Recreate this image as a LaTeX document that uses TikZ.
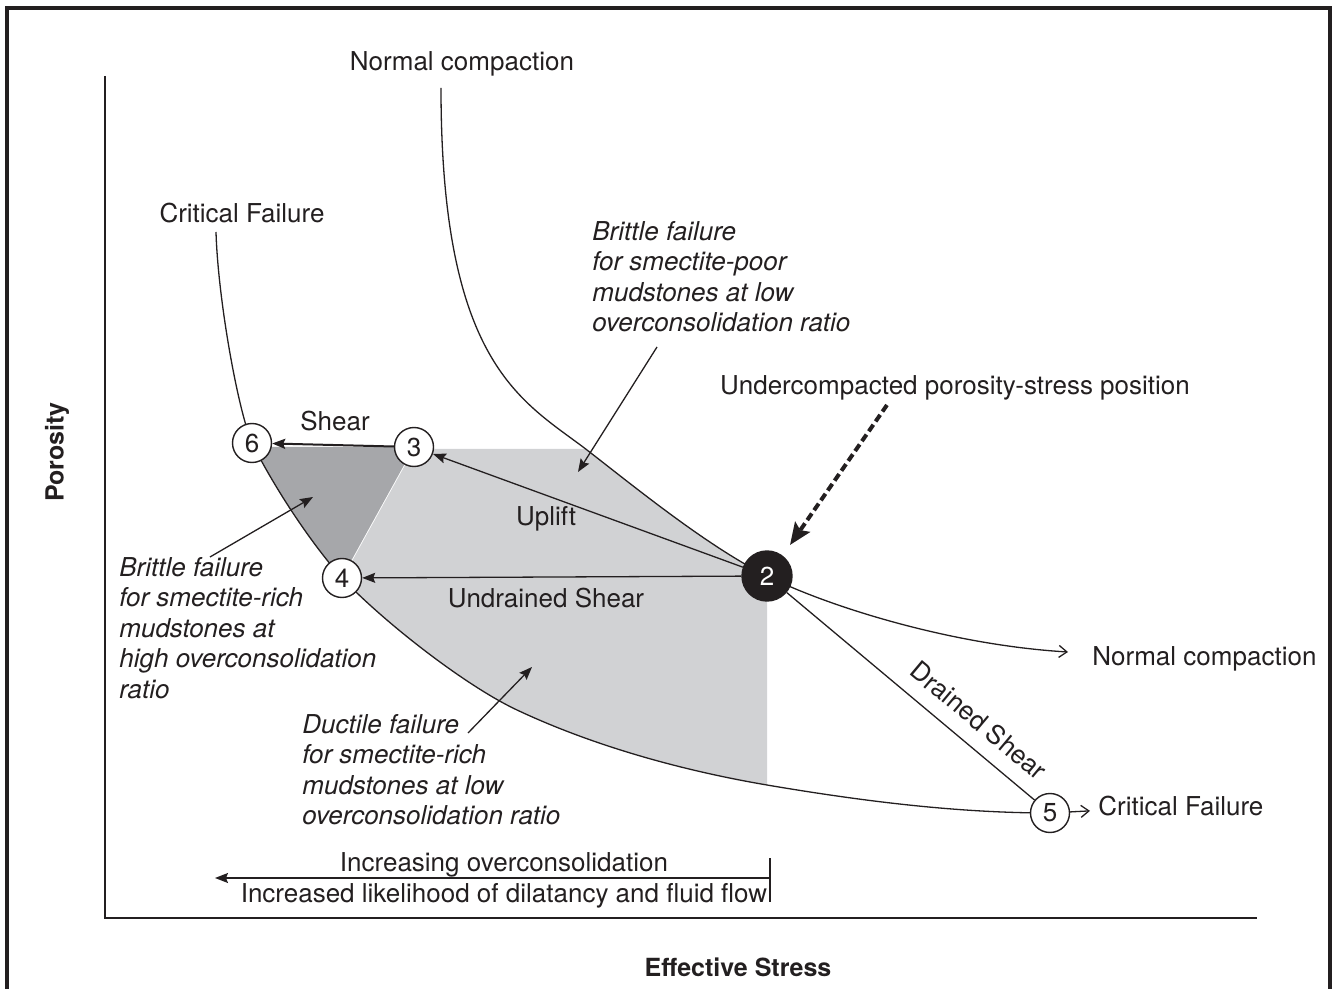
\documentclass[tikz,border=0pt]{standalone}
\usepackage{fontspec}
\setmainfont{TeX Gyre Heros}
\usetikzlibrary{positioning,arrows.meta}
\definecolor{ink}{HTML}{231F20}
\definecolor{lightzone}{HTML}{D1D2D4}
\definecolor{darkzone}{HTML}{A6A7AA}

\begin{document}
\begin{tikzpicture}[x=0.5pt,y=-0.5pt,
  every node/.style={text=ink,font=\fontsize{13}{15.25}\selectfont},
  note/.style={align=left,anchor=north west,inner sep=0pt,font=\fontsize{13}{15.25}\selectfont\itshape},
  stage/.style={circle,draw=ink,line width=0.7pt,fill=white,minimum size=19.5pt,inner sep=0pt},
  curveline/.style={draw=ink,line width=0.65pt},
  arr/.style={curveline,-{Stealth[length=6.5pt,width=5pt,inset=1pt]}},
  openarr/.style={curveline,-{Straight Barb[length=4pt,width=6pt]}},
  ncpath/.style={insert path={(441,88) .. controls (441,366) and (523,401) .. (587,450)
      .. controls (636,488) and (707,546) .. (767,576)
      .. controls (827,606) and (950,645) .. (1068,652)}},
  cfpath/.style={insert path={(216,232) .. controls (218,300) and (238,410) .. (252,443)
      .. controls (272,483) and (306.8,538) .. (342,578)
      .. controls (387,625) and (467,686.5) .. (517,710)
      .. controls (597,747.6) and (687,771.4) .. (767,785)
      .. controls (867,802) and (960,813) .. (1050,813)}}]
\useasboundingbox (0,0) rectangle (1334,989);

% frame and axes
\draw[ink,line width=1.7pt] (7,989) -- (7,8) -- (1330,8) -- (1330,989);
\draw[ink,line width=1pt] (105,76) -- (105,918) -- (1257,918);
\node[rotate=90,font=\fontsize{12.5}{15}\selectfont\bfseries] (ylab) at (57,452) {Porosity};
\node[font=\fontsize{12.5}{15}\selectfont\bfseries] (xlab) at (738,967) {Effective Stress};

% shaded zones
\begin{scope}
  \clip[ncpath] -- (1068,1000) -- (90,1000) -- (90,88) -- cycle;
  \clip[cfpath] -- (1300,813) -- (1300,0) -- (216,0) -- cycle;
  \fill[lightzone] (414,449) -- (767,449) -- (767,900) -- (165,900) -- cycle;
\end{scope}
\begin{scope}
  \clip[cfpath] -- (1300,813) -- (1300,0) -- (216,0) -- cycle;
  \fill[darkzone] (200,447) -- (414,447) -- (335,590) -- (200,590) -- cycle;
\end{scope}

% curves
\draw[openarr][ncpath];
\draw[curveline][cfpath];

% stages
\node[stage] (n6) at (252,443) {6};
\node[stage] (n3) at (414,447) {3};
\node[stage] (n4) at (342,578) {4};
\node[stage] (n5) at (1050,813) {5};
\node[stage,fill=ink,text=white,minimum size=25pt] (n2) at (767,576) {2};

% paths between stages
\draw[arr,line width=1pt] (n3) -- (n6);
\draw[arr] (n2) -- (n3);
\draw[arr] (n2) -- (n4);
\draw[curveline] (n2) -- (n5) node[pos=0.71,sloped,above=4pt] {Drained Shear};

% labels
\node (nctop) at (462,64) {Normal compaction};
\node (cftop) at (242,213) {Critical Failure};
\node[anchor=west,inner sep=4pt] (ncright) at (1084,659) {Normal compaction};
\node[anchor=west,inner sep=4pt] (cfright) at (1090,806) {Critical Failure};
\draw[openarr] (n5) -- (cfright);
\node (shear) at (335,421) {Shear};
\node (uplift) at (546,519) {Uplift};
\node (undrained) at (546,598) {Undrained Shear};
\node (ucl) at (955,388) {Undercompacted porosity-stress position};

\node[note] (poor) at (592,221) {Brittle failure\\for smectite-poor\\mudstones at low\\overconsolidation ratio};
\node[note] (rich) at (119,557) {Brittle failure\\for smectite-rich\\mudstones at\\high overconsolidation\\ratio};
\node[note] (ductile) at (302,714) {Ductile failure\\for smectite-rich\\mudstones at low\\overconsolidation ratio};

% pointers
\coordinate (poorfrom) at (657,347);
\coordinate (poorto) at (578,472);
\coordinate (richfrom) at (210,557);
\coordinate (richto) at (313,497);
\coordinate (ductfrom) at (468,733);
\coordinate (ductto) at (532,667);
\draw[arr] (poorfrom) -- (poorto);
\draw[arr] (richfrom) -- (richto);
\draw[arr] (ductfrom) -- (ductto);
\coordinate (uclfrom) at (887,405);
\coordinate (uclto) at (790,545);
\draw[ink,line width=2pt,dash pattern=on 4pt off 2pt,-{Stealth[length=11pt,width=9pt,inset=2pt]}] (uclfrom) -- (uclto);

% overconsolidation scale
\coordinate (scaleR) at (770,878);
\coordinate (scaleL) at (215,878);
\draw[curveline] (770,858) -- (770,902);
\draw[arr] (scaleR) -- (scaleL);
\node (inc1) at (504,865) {Increasing overconsolidation};
\node (inc2) at (504,896) {Increased likelihood of dilatancy and fluid flow};
\end{tikzpicture}
\end{document}
